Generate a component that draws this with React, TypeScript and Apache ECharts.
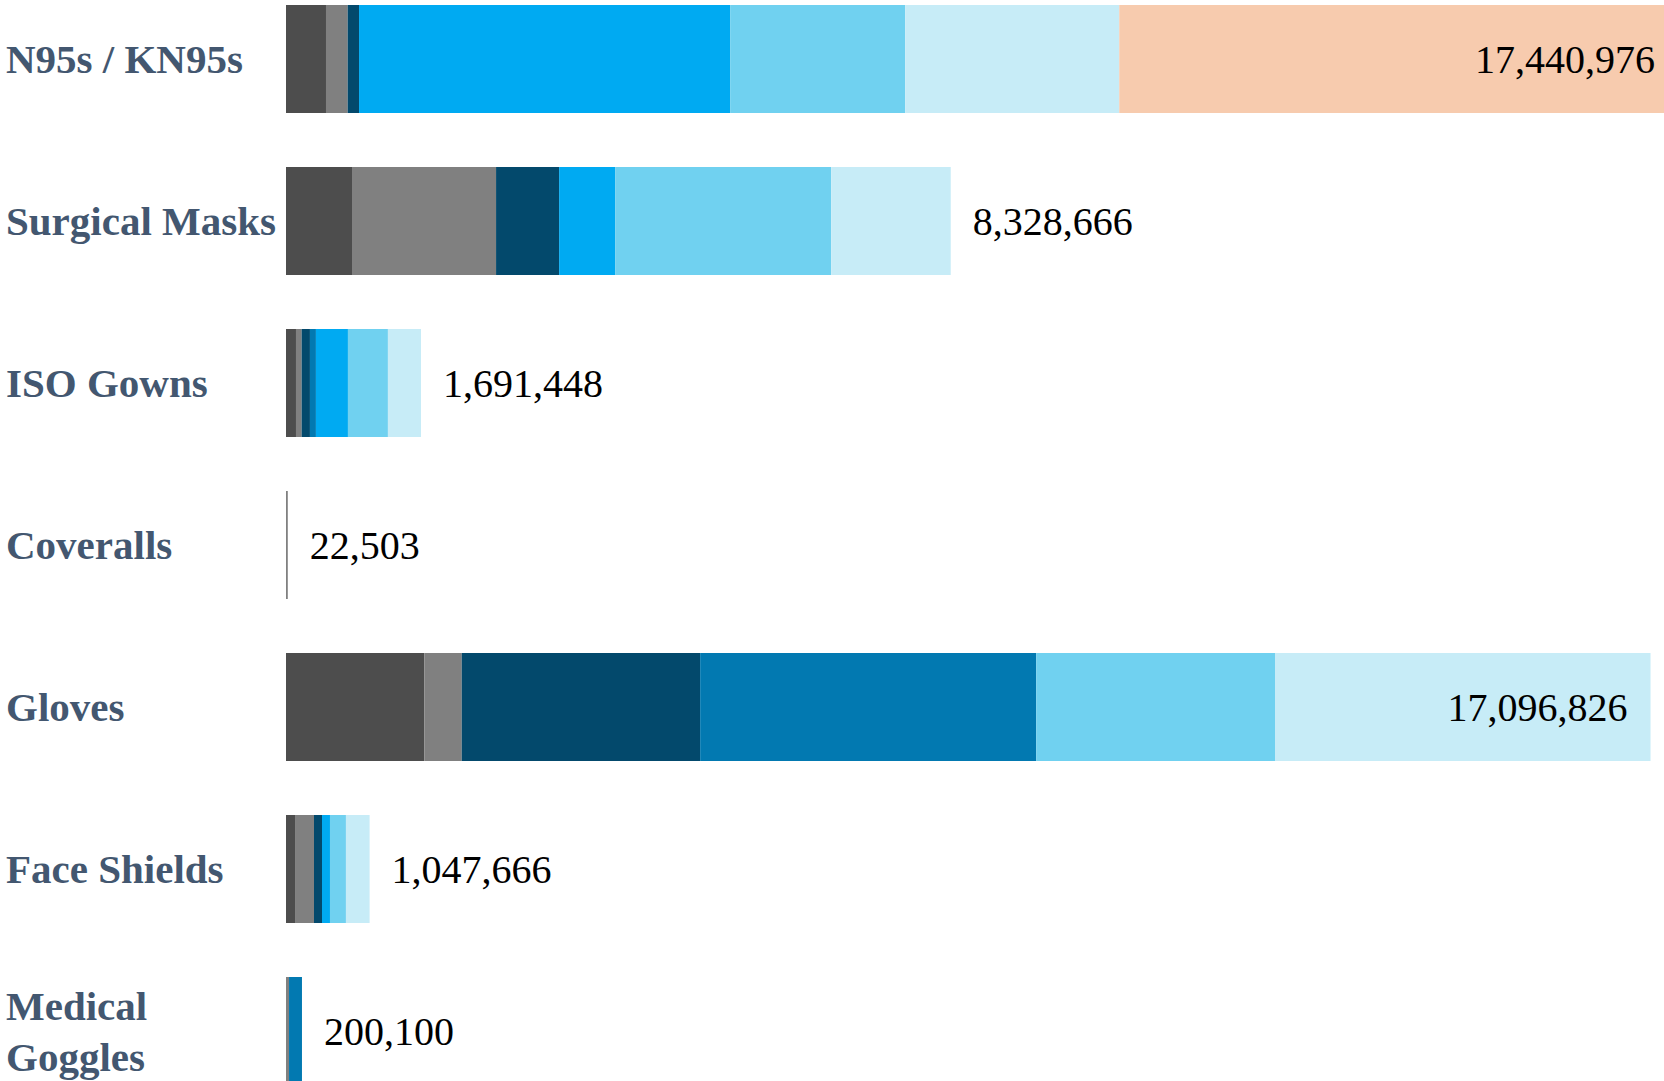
import React, { useEffect, useRef } from "react";
import * as echarts from "echarts";

const categories = [
  "N95s / KN95s",
  "Surgical Masks",
  "ISO Gowns",
  "Coveralls",
  "Gloves",
  "Face Shields",
  "Medical Goggles",
];

const seriesNames = [
  "Segment 1",
  "Segment 2",
  "Segment 3",
  "Segment 4",
  "Segment 5",
  "Segment 6",
  "Segment 7",
  "Segment 8",
];

const seriesColors = [
  "#4d4d4d",
  "#808080",
  "#03496c",
  "#0279b1",
  "#00aaf2",
  "#70d1f0",
  "#c7ecf7",
  "#f7cbae",
];

const segment1 = [501000, 827000, 125000, 0, 1733000, 113000, 0];
const segment2 = [272000, 1805000, 71000, 22503, 469000, 238000, 38000];
const segment3 = [142000, 790000, 104000, 0, 2987000, 100000, 0];
const segment4 = [0, 0, 75000, 0, 4211000, 0, 162100];
const segment5 = [4650000, 702000, 401000, 0, 0, 100000, 0];
const segment6 = [2193000, 2707000, 501000, 0, 2992000, 200000, 0];
const segment7 = [2682000, 1497666, 414448, 0, 4704826, 296666, 0];
const segment8 = [7000976, 0, 0, 0, 0, 0, 0];

const segments = [segment1, segment2, segment3, segment4, segment5, segment6, segment7, segment8];

export default function App() {
  const ref = useRef<HTMLDivElement>(null);

  useEffect(() => {
    document.body.style.margin = "0";
    document.body.style.overflow = "hidden";
    if (!ref.current) return;
    const chart = echarts.init(ref.current, undefined, { renderer: "svg" });

    const totals = categories.map((_, i) =>
      segments.reduce((s, arr) => s + arr[i], 0)
    );
    const maxTotal = Math.max(...totals);

    const stackSeries = segments.map((arr, k) => ({
      name: seriesNames[k],
      type: "bar",
      stack: "total",
      barWidth: 108,
      barGap: "-100%",
      data: arr,
      itemStyle: { color: seriesColors[k] },
      emphasis: { disabled: true },
    }));

    const labelSeries = {
      name: "Total",
      type: "bar",
      barWidth: 108,
      barGap: "-100%",
      z: 5,
      itemStyle: { color: "rgba(0,0,0,0)" },
      emphasis: { disabled: true },
      data: totals.map((v) => ({
        value: v,
        label:
          v > maxTotal * 0.8
            ? { position: "insideRight", distance: 23 }
            : { position: "right", distance: 22 },
      })),
      label: {
        show: true,
        fontFamily: "Liberation Serif",
        fontSize: 40,
        color: "#000000",
        formatter: (p: any) => Number(p.value).toLocaleString("en-US"),
      },
    };

    chart.setOption({
      animation: false,
      grid: { left: 286, top: 0, width: 1392, height: 1134, containLabel: false },
      xAxis: {
        type: "value",
        min: 0,
        max: maxTotal,
        show: false,
      },
      yAxis: {
        type: "category",
        data: categories,
        inverse: true,
        axisLine: { show: false },
        axisTick: { show: false },
        splitLine: { show: false },
        axisLabel: {
          align: "left",
          margin: 280,
          fontFamily: "Liberation Serif",
          fontWeight: "bold",
          fontSize: 41,
          lineHeight: 51,
          color: "#435770",
          formatter: (v: string) =>
            v === "Medical Goggles" ? "Medical\nGoggles" : v,
        },
      },
      series: [...stackSeries, labelSeries],
    });

    return () => chart.dispose();
  }, []);

  return (
    <div
      style={{
        position: "relative",
        width: 1664,
        height: 1081,
        overflow: "hidden",
        background: "#ffffff",
      }}
    >
      <div
        ref={ref}
        style={{ position: "absolute", left: 0, top: -22, width: 1700, height: 1134 }}
      />
    </div>
  );
}
